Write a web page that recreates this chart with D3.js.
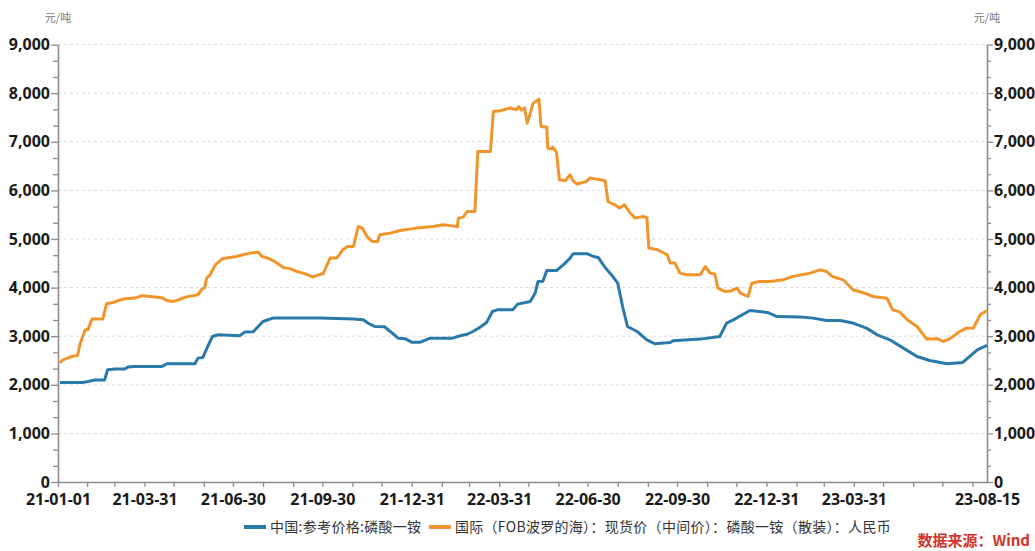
<!DOCTYPE html>
<html>
<head>
<meta charset="utf-8">
<script src="https://cdn.jsdelivr.net/npm/d3@7"></script>
<style>
  body { margin: 0; background: #fff; }
  svg { display: block; }
</style>
</head>
<body>
<script>
// series names
let seriesNames = ["中国:参考价格:磷酸一铵", "国际（FOB波罗的海）：现货价（中间价）：磷酸一铵（散装）：人民币"];
let seriesColors = ["#2a7aa9", "#f0952b"];

// 中国 参考价格
let chinaDates = ["2021-01-03","2021-01-26","2021-02-01","2021-02-08","2021-02-18","2021-02-21","2021-03-01","2021-03-11","2021-03-14","2021-03-21",
  "2021-04-18","2021-04-23","2021-05-22","2021-05-25","2021-05-30","2021-06-04","2021-06-09","2021-06-15","2021-07-07","2021-07-12",
  "2021-07-21","2021-07-26","2021-07-31","2021-08-10","2021-09-28","2021-11-01","2021-11-11","2021-11-16","2021-11-23","2021-12-03",
  "2021-12-11","2021-12-17","2021-12-24","2021-12-31","2022-01-09","2022-01-19","2022-02-11","2022-02-19","2022-02-26","2022-03-04",
  "2022-03-11","2022-03-18","2022-03-24","2022-03-29","2022-04-14","2022-04-19","2022-05-02","2022-05-07","2022-05-10","2022-05-15",
  "2022-05-19","2022-05-29","2022-06-05","2022-06-12","2022-06-15","2022-06-30","2022-07-06","2022-07-11","2022-07-15","2022-07-20",
  "2022-07-26","2022-07-31","2022-08-05","2022-08-10","2022-08-20","2022-08-30","2022-09-07","2022-09-23","2022-09-26","2022-10-24",
  "2022-11-13","2022-11-20","2022-11-27","2022-12-14","2023-01-01","2023-01-11","2023-02-04","2023-02-17","2023-03-03","2023-03-17",
  "2023-03-30","2023-04-13","2023-04-24","2023-05-07","2023-05-21","2023-06-04","2023-06-17","2023-07-05","2023-07-21","2023-07-28",
  "2023-08-05","2023-08-15"];
let chinaValues = [2045,2047,2068,2100,2100,2310,2323,2325,2364,2377,
  2377,2432,2432,2549,2560,2788,2994,3029,3010,3084,
  3090,3200,3302,3372,3372,3352,3340,3270,3200,3195,
  3063,2960,2950,2878,2878,2960,2960,3008,3040,3097,
  3180,3280,3508,3543,3543,3660,3714,3887,4126,4130,
  4352,4352,4469,4607,4696,4696,4640,4620,4500,4366,
  4228,4092,3611,3200,3097,2926,2844,2870,2905,2940,
  2994,3270,3337,3529,3488,3405,3393,3372,3323,3323,
  3270,3166,3029,2926,2755,2582,2500,2432,2459,2582,
  2720,2810];

// 国际 FOB波罗的海 现货价
let intlDates = ["2021-01-03","2021-01-06","2021-01-15","2021-01-21","2021-01-24","2021-01-29","2021-02-01","2021-02-05","2021-02-16","2021-02-20",
  "2021-02-27","2021-03-04","2021-03-11","2021-03-21","2021-03-28","2021-04-04","2021-04-18","2021-04-23","2021-04-29","2021-05-04",
  "2021-05-12","2021-05-19","2021-05-25","2021-05-29","2021-06-01","2021-06-03","2021-06-06","2021-06-12","2021-06-19","2021-06-27",
  "2021-07-04","2021-07-10","2021-07-18","2021-07-26","2021-07-30","2021-08-05","2021-08-12","2021-08-21","2021-08-28","2021-09-04",
  "2021-09-10","2021-09-17","2021-09-20","2021-09-26","2021-10-01","2021-10-08","2021-10-15","2021-10-21","2021-10-26","2021-11-01",
  "2021-11-06","2021-11-10","2021-11-15","2021-11-20","2021-11-26","2021-11-28","2021-12-09","2021-12-19","2022-01-05","2022-01-22",
  "2022-02-01","2022-02-11","2022-02-16","2022-02-17","2022-02-22","2022-02-26","2022-03-06","2022-03-09","2022-03-22","2022-03-25",
  "2022-04-01","2022-04-11","2022-04-18","2022-04-20","2022-04-23","2022-04-26","2022-04-29","2022-05-02","2022-05-05","2022-05-11",
  "2022-05-13","2022-05-19","2022-05-20","2022-05-24","2022-05-25","2022-05-29","2022-06-01","2022-06-07","2022-06-12","2022-06-15",
  "2022-06-19","2022-06-29","2022-07-02","2022-07-13","2022-07-18","2022-07-21","2022-07-28","2022-08-02","2022-08-07","2022-08-13",
  "2022-08-18","2022-08-26","2022-08-30","2022-09-01","2022-09-10","2022-09-20","2022-09-23","2022-09-28","2022-10-03","2022-10-10",
  "2022-10-24","2022-10-29","2022-11-03","2022-11-08","2022-11-11","2022-11-18","2022-11-24","2022-12-01","2022-12-04","2022-12-12",
  "2022-12-16","2022-12-24","2023-01-04","2023-01-17","2023-01-27","2023-02-14","2023-02-24","2023-03-03","2023-03-09","2023-03-20",
  "2023-03-30","2023-04-09","2023-04-20","2023-05-04","2023-05-10","2023-05-17","2023-05-25","2023-06-04","2023-06-14","2023-06-25",
  "2023-07-01","2023-07-08","2023-07-18","2023-07-25","2023-08-01","2023-08-08","2023-08-15"];
let intlValues = [2447,2514,2582,2600,2858,3132,3140,3352,3352,3667,
  3693,3735,3770,3784,3831,3820,3790,3735,3714,3740,
  3804,3830,3852,3969,4000,4200,4249,4469,4592,4620,
  4640,4675,4710,4730,4640,4607,4537,4414,4390,4331,
  4298,4249,4216,4260,4290,4607,4610,4778,4846,4846,
  5257,5230,5052,4949,4949,5086,5121,5175,5224,5257,
  5292,5270,5250,5430,5450,5566,5566,6800,6800,7623,
  7640,7694,7660,7726,7650,7700,7384,7590,7796,7878,
  7315,7300,6870,6850,6890,6780,6218,6200,6321,6200,
  6132,6183,6253,6218,6200,5772,5700,5640,5704,5530,
  5430,5463,5440,4813,4778,4675,4504,4504,4298,4263,
  4263,4434,4298,4280,3990,3920,3930,3990,3887,3817,
  4092,4126,4126,4160,4228,4298,4366,4330,4228,4160,
  3955,3900,3817,3780,3543,3500,3337,3200,2940,2950,
  2891,2950,3097,3166,3170,3440,3529];

// axes
let yTicks = [0,1000,2000,3000,4000,5000,6000,7000,8000,9000];
let xLabelDates = ["2021-01-01","2021-03-31","2021-06-30","2021-09-30","2021-12-31","2022-03-31","2022-06-30","2022-09-30","2022-12-31","2023-03-31","2023-08-15"];
let unitLabel = "元/吨";
let sourceLabel = "数据来源：Wind";

let width = 1035, height = 551;
let plotLeft = 58, plotRight = 987, plotTop = 44.6, plotBottom = 482;
let parse = d3.timeParse("%Y-%m-%d");

let svg = d3.select("body").append("svg")
  .attr("width", width).attr("height", height);

let x = d3.scaleTime()
  .domain([parse("2021-01-01"), parse("2023-08-15")])
  .range([plotLeft, plotRight]);
let y = d3.scaleLinear().domain([0, 9000]).range([plotBottom, plotTop]);

let numFont = "'Noto Sans', 'DejaVu Sans', sans-serif";
let cjkFont = "'Noto Sans CJK SC', 'Noto Sans', sans-serif";

// grid lines
svg.append("g")
  .selectAll("line")
  .data(yTicks.slice(1))
  .enter().append("line")
    .attr("x1", plotLeft).attr("x2", plotRight)
    .attr("y1", d => y(d)).attr("y2", d => y(d))
    .attr("stroke", "#d9d9d9")
    .attr("stroke-dasharray", "3,3");

// minor y ticks (thirds)
let minorY = [];
for (let i = 0; i < 27; i++) { if (i % 3 != 0) minorY.push(i * 1000 / 3); }

function styleAxis(g) {
  g.select(".domain").attr("stroke", "#8c8c8c").attr("stroke-width", 1.3);
  g.selectAll(".tick line").attr("stroke", "#8c8c8c").attr("stroke-width", 1.3);
  g.selectAll("text").attr("fill", "#1a1a1a").attr("font-family", numFont)
    .attr("font-weight", "bold").attr("font-size", "16px");
}

// left axis
svg.append("g").attr("transform", "translate(" + plotLeft + ",0)")
  .call(d3.axisLeft(y).tickValues(minorY).tickSize(5).tickFormat("").tickSizeOuter(0))
  .call(styleAxis);
svg.append("g").attr("transform", "translate(" + plotLeft + ",0)")
  .call(d3.axisLeft(y).tickValues(yTicks).tickSize(7).tickPadding(1).tickFormat(d3.format(",")).tickSizeOuter(0))
  .call(styleAxis);

// right axis
svg.append("g").attr("transform", "translate(" + plotRight + ",0)")
  .call(d3.axisRight(y).tickValues(minorY).tickSize(4).tickFormat("").tickSizeOuter(0))
  .call(styleAxis);
svg.append("g").attr("transform", "translate(" + plotRight + ",0)")
  .call(d3.axisRight(y).tickValues(yTicks).tickSize(6).tickPadding(1).tickFormat(d3.format(",")).tickSizeOuter(0))
  .call(styleAxis);

// x axis: monthly ticks on month ends
let monthEnds = d3.timeMonth.range(parse("2021-02-01"), parse("2023-09-01"))
  .map(d => d3.timeDay.offset(d, -1));
monthEnds.unshift(parse("2021-01-01"));
svg.append("g").attr("transform", "translate(0," + plotBottom + ")")
  .call(d3.axisBottom(x).tickValues(monthEnds).tickSize(5).tickFormat("").tickSizeOuter(0))
  .call(styleAxis);
svg.append("g").attr("transform", "translate(0," + (plotBottom + 1) + ")")
  .call(d3.axisBottom(x).tickValues(xLabelDates.map(parse)).tickSize(0).tickPadding(11)
    .tickFormat(d3.timeFormat("%y-%m-%d")).tickSizeOuter(0))
  .call(styleAxis)
  .call(g => g.select(".domain").remove());

// unit labels
[plotLeft, plotRight].forEach(function(px) {
  svg.append("text").attr("x", px).attr("y", 22)
    .attr("text-anchor", "middle")
    .attr("font-family", cjkFont).attr("font-size", "11px")
    .attr("fill", "#777").text(unitLabel);
});

// lines
let line = d3.line().x(d => x(d[0])).y(d => y(d[1]));
let chinaData = chinaDates.map((d, i) => [parse(d), chinaValues[i]]);
let intlData = intlDates.map((d, i) => [parse(d), intlValues[i]]);

[chinaData, intlData].forEach(function(data, i) {
  svg.append("path")
    .datum(data)
    .attr("d", line)
    .attr("fill", "none")
    .attr("stroke", seriesColors[i])
    .attr("stroke-width", 3)
    .attr("stroke-linejoin", "round");
});

// legend: first item starts at 243, second item's text ends at 891
let legend = svg.append("g");
let items = legend.selectAll("g.item")
  .data(seriesNames)
  .enter().append("g").attr("class", "item");
items.append("line")
  .attr("y1", 527).attr("y2", 527)
  .attr("stroke", (d, i) => seriesColors[i]).attr("stroke-width", 4);
items.append("text")
  .attr("y", 532)
  .attr("font-family", cjkFont).attr("font-size", "14px")
  .attr("letter-spacing", "0.3px")
  .attr("fill", "#333").text(d => d);
items.each(function(d, i) {
  let g = d3.select(this);
  let len = g.select("text").node().getComputedTextLength();
  let tx = i == 0 ? 270 : 891 - len;
  g.select("text").attr("x", tx);
  g.select("line").attr("x1", tx - 26).attr("x2", tx - 4);
});

// source
svg.append("text")
  .attr("x", 1030).attr("y", 546)
  .attr("text-anchor", "end")
  .attr("font-family", cjkFont).attr("font-size", "15px")
  .attr("font-weight", "bold")
  .attr("fill", "#d2332b").text(sourceLabel);
</script>
</body>
</html>
